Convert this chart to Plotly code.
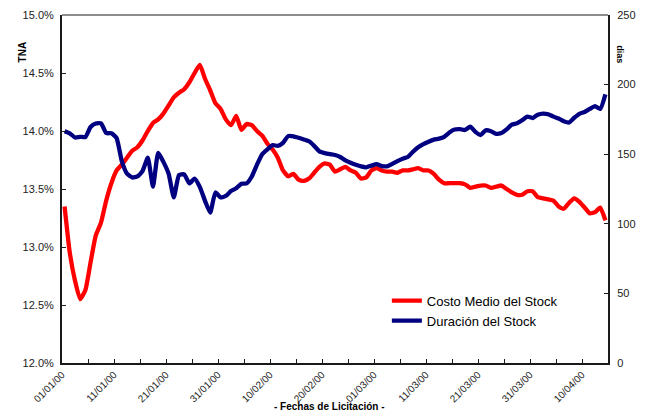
import pandas as pd
import plotly.graph_objects as go

# ---- data (daily, 01/01/2000 .. 14/04/2000) ----
start_date = "2000-01-01"
n_days = 105

costo_medio = [  # TNA, %
    13.35, 12.95, 12.71, 12.55, 12.63, 12.87, 13.10, 13.21, 13.40, 13.55,
    13.66, 13.71, 13.77, 13.83, 13.86, 13.92, 14.00, 14.07, 14.10, 14.15,
    14.22, 14.29, 14.33, 14.36, 14.42, 14.50, 14.57, 14.45, 14.35, 14.24,
    14.19, 14.10, 14.05, 14.13, 14.01, 14.06, 14.05, 14.00, 13.96, 13.89,
    13.84, 13.77, 13.66, 13.61, 13.63, 13.58, 13.57, 13.59, 13.64, 13.69,
    13.72, 13.71, 13.65, 13.67, 13.69, 13.66, 13.64, 13.59, 13.60, 13.66,
    13.68, 13.66, 13.65, 13.65, 13.64, 13.66, 13.66, 13.67, 13.68, 13.66,
    13.66, 13.63, 13.58, 13.55, 13.55, 13.55, 13.55, 13.54, 13.51, 13.52,
    13.53, 13.53, 13.51, 13.52, 13.53, 13.50, 13.47, 13.45, 13.45, 13.48,
    13.48, 13.43, 13.42, 13.41, 13.40, 13.35, 13.33, 13.38, 13.42, 13.39,
    13.34, 13.29, 13.30, 13.34, 13.23,
]

duracion = [  # dias
    166.5, 165.0, 162.0, 162.5, 162.3, 169.5, 172.0, 172.2, 165.2, 165.0,
    161.5, 145.0, 136.0, 133.3, 134.0, 138.0, 147.5, 126.7, 151.0, 144.5,
    136.0, 119.0, 135.0, 135.5, 129.0, 132.5, 126.5, 116.5, 108.0, 122.5,
    119.0, 120.0, 123.5, 125.5, 128.8, 129.0, 134.0, 142.5, 150.0, 153.5,
    156.5, 156.0, 158.2, 163.0, 162.8, 161.8, 160.6, 159.3, 156.0, 152.0,
    150.8, 150.0, 149.4, 148.0, 145.5, 143.8, 142.4, 141.2, 140.6, 141.8,
    142.8, 141.5, 141.3, 143.0, 145.0, 146.8, 148.0, 151.8, 155.0, 157.2,
    159.0, 160.5, 161.2, 162.5, 165.6, 167.7, 168.0, 167.4, 169.8, 166.0,
    163.8, 167.2, 166.5, 164.6, 165.2, 167.8, 171.2, 172.2, 174.5, 177.0,
    176.0, 178.4, 179.2, 178.7, 177.0, 175.6, 173.7, 172.8, 176.2, 179.0,
    180.3, 182.5, 184.5, 182.5, 193.0,
]

series_names = ["Costo Medio del Stock", "Duración del Stock"]
series_colors = ["#FF0000", "#000080"]

dates = pd.date_range(start_date, periods=n_days, freq="D") + pd.Timedelta(hours=12)

FONT = "Arial, Liberation Sans, sans-serif"
AXC = "#1a1a1a"
DAY_MS = 86400000

fig = go.Figure()
fig.add_trace(go.Scatter(
    x=dates, y=costo_medio, name=series_names[0], mode="lines", legendgroup="a",
    line=dict(color=series_colors[0], width=4.3, shape="spline", smoothing=0.5),
    yaxis="y",
))
fig.add_trace(go.Scatter(
    x=dates, y=duracion, name=series_names[1], mode="lines", legendgroup="b",
    line=dict(color=series_colors[1], width=4.3, shape="spline", smoothing=0.5),
    yaxis="y2",
))

fig.update_layout(
    width=651, height=412,
    margin=dict(l=62, r=43, t=15, b=49, autoexpand=False),
    paper_bgcolor="white", plot_bgcolor="white",
    font=dict(family=FONT, size=11, color="#222"),
    showlegend=True,
    legend=dict(
        x=0.595, y=0.222, xanchor="left", yanchor="top",
        bgcolor="rgba(0,0,0,0)", borderwidth=0,
        font=dict(family=FONT, size=13, color="#000"),
        itemwidth=30, tracegroupgap=0,
    ),
    xaxis=dict(
        type="date", automargin=False,
        range=["2000-01-01", "2000-04-15"],
        tickmode="linear", tick0="2000-01-01", dtick=10 * DAY_MS,
        tickformat="%d/%m/%y", tickangle=-45,
        tickfont=dict(family=FONT, size=10, color="#222"),
        ticks="inside", ticklen=4, tickwidth=1, tickcolor=AXC,
        minor=dict(tick0="2000-01-01", dtick=5 * DAY_MS, ticks="inside",
                   ticklen=4, tickwidth=1, tickcolor=AXC, showgrid=False),
        showline=True, linewidth=2, linecolor=AXC,
        showgrid=False, zeroline=False,
    ),
    yaxis=dict(
        automargin=False,
        range=[12, 15], tickmode="linear", tick0=12, dtick=0.5,
        tickformat=".1f", ticksuffix="%",
        ticks="inside", ticklen=4, tickwidth=1, tickcolor=AXC,
        ticklabelstandoff=4,
        showline=True, linewidth=2, linecolor=AXC,
        showgrid=False, zeroline=False,
    ),
    yaxis2=dict(
        automargin=False,
        range=[0, 250], tickmode="linear", tick0=0, dtick=50,
        overlaying="y", side="right",
        ticks="inside", ticklen=4, tickwidth=1, tickcolor=AXC,
        ticklabelstandoff=5,
        showline=True, linewidth=2, linecolor=AXC,
        showgrid=False, zeroline=False,
    ),
    shapes=[dict(type="line", xref="paper", yref="paper", x0=0, x1=1, y0=1, y1=1,
                 line=dict(color=AXC, width=1))],
    annotations=[
        dict(text="<b>TNA</b>", xref="paper", yref="paper", x=-0.086, y=0.93,
             showarrow=False, textangle=-90, font=dict(family=FONT, size=10, color="#000")),
        dict(text="<b>dias</b>", xref="paper", yref="paper", x=1.036, y=0.92,
             showarrow=False, textangle=90, font=dict(family=FONT, size=9, color="#000")),
        dict(text="<b>- Fechas de Licitación -</b>", xref="paper", yref="paper",
             x=0.49, y=-0.124, yanchor="middle", showarrow=False,
             font=dict(family=FONT, size=10, color="#000")),
    ],
)

fig.write_html(
    "out.html",
    config={"displayModeBar": False},
    post_script="document.body.style.margin='0';document.body.style.overflow='hidden';",
)
